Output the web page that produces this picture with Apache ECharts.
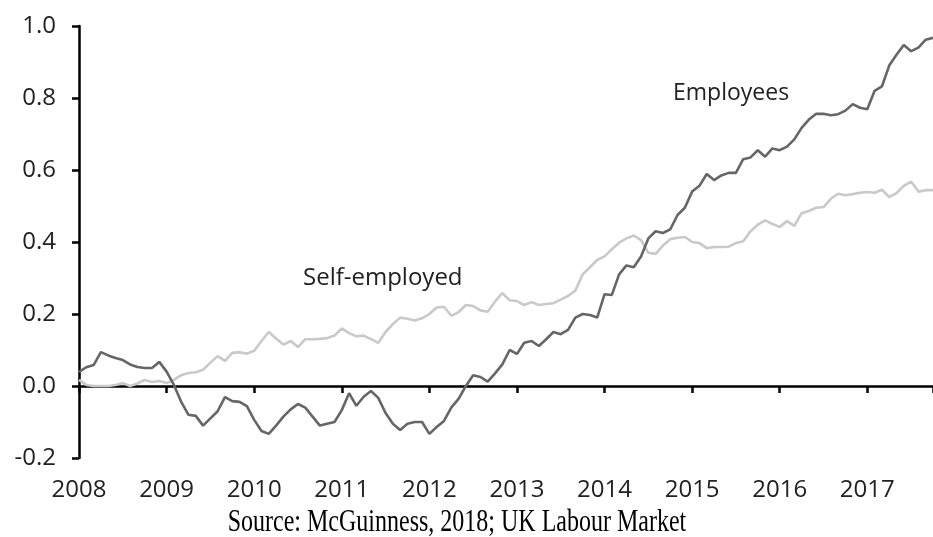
<!DOCTYPE html>
<html>
<head>
<meta charset="utf-8">
<script src="https://cdn.jsdelivr.net/npm/echarts@6/dist/echarts.min.js"></script>
<style>
  html, body { margin: 0; padding: 0; background: #ffffff; }
  #chart { width: 933px; height: 537px; }
</style>
</head>
<body>
<div id="chart"></div>
<script>
// Monthly observations, January 2008 to October 2017 (decimal years)
const startYear = 2008;
const monthCount = 118;
const months = [];
for (let i = 0; i < monthCount; i++) months.push(startYear + i / 12);

const yearTicks = [2008, 2009, 2010, 2011, 2012, 2013, 2014, 2015, 2016, 2017];

const employees = [
  0.039, 0.052, 0.058, 0.094, 0.085, 0.078, 0.072, 0.060, 0.053, 0.050,
  0.050, 0.067, 0.040, 0.003, -0.044, -0.080, -0.083, -0.110, -0.090, -0.070,
  -0.031, -0.042, -0.044, -0.056, -0.094, -0.125, -0.133, -0.110, -0.085, -0.065,
  -0.050, -0.060, -0.085, -0.110, -0.105, -0.100, -0.067, -0.020, -0.055, -0.030,
  -0.014, -0.033, -0.075, -0.105, -0.122, -0.105, -0.100, -0.100, -0.133, -0.114,
  -0.097, -0.060, -0.036, 0.000, 0.030, 0.025, 0.012, 0.035, 0.060, 0.100,
  0.089, 0.120, 0.125, 0.111, 0.130, 0.150, 0.144, 0.156, 0.190, 0.200,
  0.197, 0.190, 0.255, 0.253, 0.310, 0.335, 0.330, 0.360, 0.410, 0.430,
  0.425, 0.435, 0.475, 0.495, 0.540, 0.556, 0.589, 0.572, 0.585, 0.592,
  0.592, 0.630, 0.635, 0.655, 0.637, 0.660, 0.655, 0.665, 0.685, 0.717,
  0.740, 0.756, 0.756, 0.752, 0.755, 0.765, 0.783, 0.773, 0.769, 0.820,
  0.832, 0.890, 0.920, 0.947, 0.930, 0.940, 0.962, 0.967
];

const selfEmployed = [
  0.017, 0.003, 0.000, 0.000, 0.000, 0.003, 0.008, 0.000, 0.007, 0.017,
  0.011, 0.014, 0.008, 0.017, 0.030, 0.036, 0.038, 0.045, 0.065, 0.083,
  0.070, 0.092, 0.094, 0.090, 0.098, 0.125, 0.150, 0.132, 0.115, 0.125,
  0.108, 0.130, 0.130, 0.131, 0.133, 0.140, 0.160, 0.147, 0.138, 0.140,
  0.130, 0.120, 0.150, 0.172, 0.190, 0.187, 0.182, 0.188, 0.200, 0.218,
  0.220, 0.195, 0.205, 0.225, 0.222, 0.210, 0.206, 0.235, 0.258, 0.238,
  0.236, 0.225, 0.233, 0.225, 0.228, 0.230, 0.240, 0.250, 0.265, 0.310,
  0.330, 0.350, 0.360, 0.380, 0.398, 0.410, 0.418, 0.405, 0.370, 0.367,
  0.390, 0.408, 0.412, 0.414, 0.400, 0.397, 0.383, 0.386, 0.386, 0.387,
  0.397, 0.402, 0.430, 0.448, 0.460, 0.450, 0.442, 0.458, 0.445, 0.480,
  0.486, 0.495, 0.497, 0.520, 0.534, 0.530, 0.533, 0.537, 0.539, 0.537,
  0.545, 0.525, 0.536, 0.556, 0.568, 0.540, 0.544, 0.544
];

const yTicks = [-0.2, 0.0, 0.2, 0.4, 0.6, 0.8, 1.0];

const seriesNames = ['Employees', 'Self-employed'];
const sourceText = 'Source: McGuinness, 2018; UK Labour Market';

const pair = (arr) => arr.map((v, i) => [months[i], v]);

const sansFont = '"Open Sans", "Noto Sans", sans-serif';
const xMin = yearTicks[0];
const xMax = months[months.length - 1];

const chart = echarts.init(document.getElementById('chart'), null, { renderer: 'canvas' });

chart.setOption({
  backgroundColor: '#ffffff',
  animation: false,
  grid: { left: 79, right: 0, top: 26, bottom: 79, containLabel: false },
  xAxis: [
    {
      type: 'value',
      min: xMin,
      max: xMax,
      interval: 1,
      position: 'bottom',
      axisLine: { show: true, onZero: true, lineStyle: { color: '#000000', width: 2.5 } },
      axisTick: { show: true, inside: false, length: 7, lineStyle: { color: '#000000', width: 2.5 } },
      axisLabel: { show: false },
      splitLine: { show: false }
    },
    {
      type: 'value',
      min: xMin,
      max: xMax,
      interval: 1,
      position: 'bottom',
      axisLine: { show: false, onZero: false },
      axisTick: { show: false },
      axisLabel: {
        show: true,
        margin: 20,
        fontSize: 24,
        fontFamily: sansFont,
        color: '#222222',
        showMaxLabel: false,
        formatter: (v) => (yearTicks.indexOf(Math.round(v * 1000) / 1000) >= 0 ? String(Math.round(v)) : '')
      },
      splitLine: { show: false }
    }
  ],
  yAxis: {
    type: 'value',
    min: yTicks[0],
    max: yTicks[yTicks.length - 1],
    interval: 0.2,
    axisLine: { show: true, onZero: false, lineStyle: { color: '#000000', width: 2.5 } },
    axisTick: { show: true, inside: false, length: 7, lineStyle: { color: '#000000', width: 2.5 } },
    axisLabel: {
      margin: 23,
      fontSize: 24,
      fontFamily: sansFont,
      color: '#222222',
      formatter: (v) => v.toFixed(1)
    },
    splitLine: { show: false }
  },
  series: [
    {
      name: seriesNames[1],
      type: 'line',
      xAxisIndex: 0,
      data: pair(selfEmployed),
      showSymbol: false,
      symbol: 'none',
      lineStyle: { color: '#c9c9c9', width: 2.6 },
      z: 3
    },
    {
      name: seriesNames[0],
      type: 'line',
      xAxisIndex: 0,
      data: pair(employees),
      showSymbol: false,
      symbol: 'none',
      lineStyle: { color: '#666666', width: 2.6 },
      z: 4
    }
  ],
  graphic: [
    {
      type: 'text',
      x: 303,
      y: 278,
      style: {
        text: seriesNames[1],
        font: '24px "Open Sans", "Noto Sans", sans-serif',
        fill: '#222222',
        align: 'left',
        verticalAlign: 'middle'
      }
    },
    {
      type: 'text',
      x: 673,
      y: 93,
      style: {
        text: seriesNames[0],
        font: '23px "Open Sans", "Noto Sans", sans-serif',
        fill: '#222222',
        align: 'left',
        verticalAlign: 'middle'
      }
    },
    {
      type: 'text',
      x: 457,
      y: 523,
      scaleY: 1.3,
      style: {
        text: sourceText,
        font: '24px "Liberation Serif", "Times New Roman", serif',
        fill: '#000000',
        align: 'center',
        verticalAlign: 'middle'
      }
    }
  ]
});
</script>
</body>
</html>
